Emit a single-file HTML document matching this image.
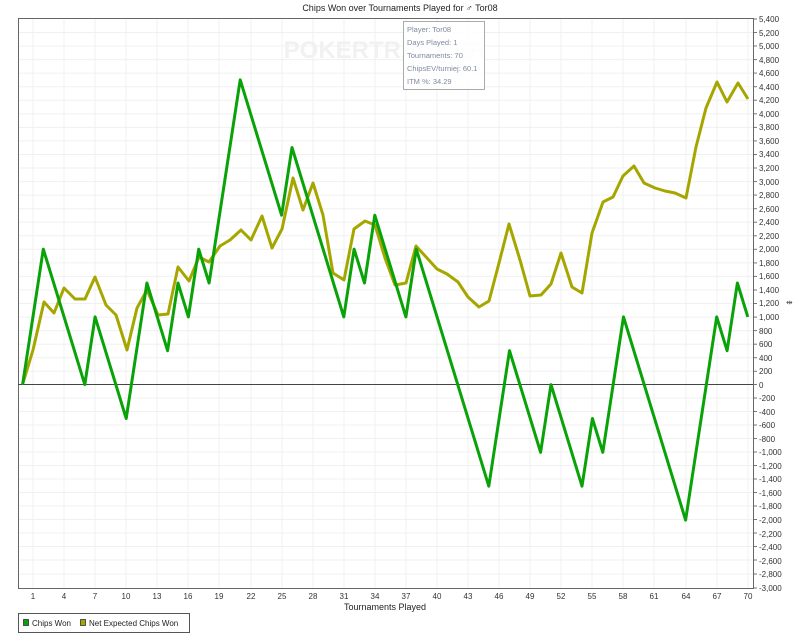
<!DOCTYPE html>
<html><head><meta charset="utf-8"><style>
html,body{margin:0;padding:0;background:#fff;}
svg{display:block;font-family:"Liberation Sans",sans-serif;}
</style></head><body>
<svg width="800" height="644" viewBox="0 0 800 644" xmlns="http://www.w3.org/2000/svg">
<rect width="800" height="644" fill="#fff"/>
<text x="400" y="11" font-size="9" text-anchor="middle" fill="#222">Chips Won over Tournaments Played for ♂ Tor08</text>
<!-- grid -->
<g stroke="#f0f0f0" stroke-width="1">
<line x1="18" x2="753" y1="32.5" y2="32.5"/><line x1="18" x2="753" y1="46" y2="46"/><line x1="18" x2="753" y1="59.6" y2="59.6"/><line x1="18" x2="753" y1="73.1" y2="73.1"/><line x1="18" x2="753" y1="86.7" y2="86.7"/><line x1="18" x2="753" y1="100.2" y2="100.2"/><line x1="18" x2="753" y1="113.8" y2="113.8"/><line x1="18" x2="753" y1="127.4" y2="127.4"/><line x1="18" x2="753" y1="140.9" y2="140.9"/><line x1="18" x2="753" y1="154.5" y2="154.5"/><line x1="18" x2="753" y1="168" y2="168"/><line x1="18" x2="753" y1="181.6" y2="181.6"/><line x1="18" x2="753" y1="195.1" y2="195.1"/><line x1="18" x2="753" y1="208.7" y2="208.7"/><line x1="18" x2="753" y1="222.2" y2="222.2"/><line x1="18" x2="753" y1="235.8" y2="235.8"/><line x1="18" x2="753" y1="249.3" y2="249.3"/><line x1="18" x2="753" y1="262.9" y2="262.9"/><line x1="18" x2="753" y1="276.4" y2="276.4"/><line x1="18" x2="753" y1="290" y2="290"/><line x1="18" x2="753" y1="303.5" y2="303.5"/><line x1="18" x2="753" y1="317.1" y2="317.1"/><line x1="18" x2="753" y1="330.6" y2="330.6"/><line x1="18" x2="753" y1="344.2" y2="344.2"/><line x1="18" x2="753" y1="357.7" y2="357.7"/><line x1="18" x2="753" y1="371.3" y2="371.3"/><line x1="18" x2="753" y1="398" y2="398"/><line x1="18" x2="753" y1="411.5" y2="411.5"/><line x1="18" x2="753" y1="425" y2="425"/><line x1="18" x2="753" y1="438.5" y2="438.5"/><line x1="18" x2="753" y1="452" y2="452"/><line x1="18" x2="753" y1="465.5" y2="465.5"/><line x1="18" x2="753" y1="479" y2="479"/><line x1="18" x2="753" y1="492.5" y2="492.5"/><line x1="18" x2="753" y1="506" y2="506"/><line x1="18" x2="753" y1="519.5" y2="519.5"/><line x1="18" x2="753" y1="533" y2="533"/><line x1="18" x2="753" y1="546.5" y2="546.5"/><line x1="18" x2="753" y1="560" y2="560"/><line x1="18" x2="753" y1="574" y2="574"/>
<line x1="33" x2="33" y1="19" y2="588"/><line x1="64" x2="64" y1="19" y2="588"/><line x1="95" x2="95" y1="19" y2="588"/><line x1="126" x2="126" y1="19" y2="588"/><line x1="157" x2="157" y1="19" y2="588"/><line x1="188" x2="188" y1="19" y2="588"/><line x1="219" x2="219" y1="19" y2="588"/><line x1="251" x2="251" y1="19" y2="588"/><line x1="282" x2="282" y1="19" y2="588"/><line x1="313" x2="313" y1="19" y2="588"/><line x1="344" x2="344" y1="19" y2="588"/><line x1="375" x2="375" y1="19" y2="588"/><line x1="406" x2="406" y1="19" y2="588"/><line x1="437" x2="437" y1="19" y2="588"/><line x1="468" x2="468" y1="19" y2="588"/><line x1="499" x2="499" y1="19" y2="588"/><line x1="530" x2="530" y1="19" y2="588"/><line x1="561" x2="561" y1="19" y2="588"/><line x1="592" x2="592" y1="19" y2="588"/><line x1="623" x2="623" y1="19" y2="588"/><line x1="654" x2="654" y1="19" y2="588"/><line x1="686" x2="686" y1="19" y2="588"/><line x1="717" x2="717" y1="19" y2="588"/><line x1="748" x2="748" y1="19" y2="588"/>
</g>
<text x="385" y="58" font-size="24" font-weight="bold" text-anchor="middle" fill="#f1f1f1">POKERTRACKER</text>
<!-- frame -->
<rect x="18.5" y="18.5" width="735" height="570" fill="none" stroke="#666" stroke-width="1"/>
<line x1="18" x2="753" y1="384.5" y2="384.5" stroke="#444" stroke-width="1"/>
<!-- series -->
<polyline fill="none" stroke="#a6a600" stroke-width="3" stroke-linejoin="round" points="23,383 33,350 44,302 54,313 64,288 75,299 85,299 95,277 106,305 116,315 127,350 137,308 147,290 158,315 168,314 178,267 189,281 199,257 209,262 220,246 230,240 241,230 251,240 262,216 272,248 282,229 293,178 303,210 313,183 323,215 333,273 344,280 354,229 365,221 375,225 385,258 395,285 406,283 416,246 427,258 437,269 447,274 458,282 468,297 479,307 489,301 499,263 509,224 520,260 530,296 541,295 551,284 561,253 572,287 582,293 592,233 603,202 613,197 623,176 634,166 644,183 655,188 665,191 675,193 686,198 696,147 706,108 717,82 727,102 738,83 748,99"/>
<polyline fill="none" stroke="#09a309" stroke-width="3" stroke-linejoin="round" points="22.6,384.6 43.3,249.1 84.8,384.6 95.1,316.9 126.2,418.5 146.9,283 167.6,350.7 178,283 188.4,316.9 198.7,249.1 209.1,283 240.2,79.8 281.6,215.2 292,147.5 343.8,316.9 354.1,249.1 364.5,283 374.8,215.2 405.9,316.9 416.3,249.1 488.8,486.2 509.5,350.7 540.6,452.3 551,384.6 582,486.2 592.4,418.5 602.8,452.3 623.5,316.9 685.6,520.1 716.7,316.9 727.1,350.7 737.4,283 747.8,316.9"/>
<!-- info box -->
<rect x="403.5" y="21.5" width="81" height="68" fill="#fff" fill-opacity="0.85" stroke="#aaa"/>
<g font-size="7.5" fill="#7f8aa0">
<text x="407" y="32">Player: Tor08</text>
<text x="407" y="45">Days Played: 1</text>
<text x="407" y="58">Tournaments: 70</text>
<text x="407" y="71">ChipsEV/turniej: 60.1</text>
<text x="407" y="84">ITM %: 34.29</text>
</g>
<!-- y ticks -->
<g stroke="#777" stroke-width="1">
<line x1="754" x2="757" y1="19" y2="19"/><line x1="754" x2="757" y1="32.5" y2="32.5"/><line x1="754" x2="757" y1="46" y2="46"/><line x1="754" x2="757" y1="59.6" y2="59.6"/><line x1="754" x2="757" y1="73.1" y2="73.1"/><line x1="754" x2="757" y1="86.7" y2="86.7"/><line x1="754" x2="757" y1="100.2" y2="100.2"/><line x1="754" x2="757" y1="113.8" y2="113.8"/><line x1="754" x2="757" y1="127.4" y2="127.4"/><line x1="754" x2="757" y1="140.9" y2="140.9"/><line x1="754" x2="757" y1="154.5" y2="154.5"/><line x1="754" x2="757" y1="168" y2="168"/><line x1="754" x2="757" y1="181.6" y2="181.6"/><line x1="754" x2="757" y1="195.1" y2="195.1"/><line x1="754" x2="757" y1="208.7" y2="208.7"/><line x1="754" x2="757" y1="222.2" y2="222.2"/><line x1="754" x2="757" y1="235.8" y2="235.8"/><line x1="754" x2="757" y1="249.3" y2="249.3"/><line x1="754" x2="757" y1="262.9" y2="262.9"/><line x1="754" x2="757" y1="276.4" y2="276.4"/><line x1="754" x2="757" y1="290" y2="290"/><line x1="754" x2="757" y1="303.5" y2="303.5"/><line x1="754" x2="757" y1="317.1" y2="317.1"/><line x1="754" x2="757" y1="330.6" y2="330.6"/><line x1="754" x2="757" y1="344.2" y2="344.2"/><line x1="754" x2="757" y1="357.7" y2="357.7"/><line x1="754" x2="757" y1="371.3" y2="371.3"/><line x1="754" x2="757" y1="384.5" y2="384.5"/><line x1="754" x2="757" y1="398" y2="398"/><line x1="754" x2="757" y1="411.5" y2="411.5"/><line x1="754" x2="757" y1="425" y2="425"/><line x1="754" x2="757" y1="438.5" y2="438.5"/><line x1="754" x2="757" y1="452" y2="452"/><line x1="754" x2="757" y1="465.5" y2="465.5"/><line x1="754" x2="757" y1="479" y2="479"/><line x1="754" x2="757" y1="492.5" y2="492.5"/><line x1="754" x2="757" y1="506" y2="506"/><line x1="754" x2="757" y1="519.5" y2="519.5"/><line x1="754" x2="757" y1="533" y2="533"/><line x1="754" x2="757" y1="546.5" y2="546.5"/><line x1="754" x2="757" y1="560" y2="560"/><line x1="754" x2="757" y1="574" y2="574"/><line x1="754" x2="757" y1="588" y2="588"/>
</g>
<g font-size="8" fill="#333">
<text x="759" y="22">5,400</text><text x="759" y="36">5,200</text><text x="759" y="49">5,000</text><text x="759" y="63">4,800</text><text x="759" y="76">4,600</text><text x="759" y="90">4,400</text><text x="759" y="103">4,200</text><text x="759" y="117">4,000</text><text x="759" y="130">3,800</text><text x="759" y="144">3,600</text><text x="759" y="157">3,400</text><text x="759" y="171">3,200</text><text x="759" y="185">3,000</text><text x="759" y="198">2,800</text><text x="759" y="212">2,600</text><text x="759" y="225">2,400</text><text x="759" y="239">2,200</text><text x="759" y="252">2,000</text><text x="759" y="266">1,800</text><text x="759" y="279">1,600</text><text x="759" y="293">1,400</text><text x="759" y="306">1,200</text><text x="759" y="320">1,000</text><text x="759" y="334">800</text><text x="759" y="347">600</text><text x="759" y="361">400</text><text x="759" y="374">200</text><text x="759" y="388">0</text><text x="759" y="401">-200</text><text x="759" y="415">-400</text><text x="759" y="428">-600</text><text x="759" y="442">-800</text><text x="759" y="455">-1,000</text><text x="759" y="469">-1,200</text><text x="759" y="482">-1,400</text><text x="759" y="496">-1,600</text><text x="759" y="509">-1,800</text><text x="759" y="523">-2,000</text><text x="759" y="537">-2,200</text><text x="759" y="550">-2,400</text><text x="759" y="564">-2,600</text><text x="759" y="577">-2,800</text><text x="759" y="591">-3,000</text>
</g>
<text x="786" y="305" font-size="8" fill="#555">⇹</text>
<!-- x labels -->
<g font-size="8" fill="#333" text-anchor="middle">
<text x="33" y="599">1</text><text x="64" y="599">4</text><text x="95" y="599">7</text><text x="126" y="599">10</text><text x="157" y="599">13</text><text x="188" y="599">16</text><text x="219" y="599">19</text><text x="251" y="599">22</text><text x="282" y="599">25</text><text x="313" y="599">28</text><text x="344" y="599">31</text><text x="375" y="599">34</text><text x="406" y="599">37</text><text x="437" y="599">40</text><text x="468" y="599">43</text><text x="499" y="599">46</text><text x="530" y="599">49</text><text x="561" y="599">52</text><text x="592" y="599">55</text><text x="623" y="599">58</text><text x="654" y="599">61</text><text x="686" y="599">64</text><text x="717" y="599">67</text><text x="748" y="599">70</text>
</g>
<text x="385" y="610" font-size="9" text-anchor="middle" fill="#222">Tournaments Played</text>
<!-- legend -->
<rect x="18.5" y="613.5" width="171" height="19" fill="#fff" stroke="#555"/>
<rect x="23.5" y="619.5" width="5" height="6" fill="#09a309" stroke="#333" stroke-width="0.8"/>
<text x="32" y="626" font-size="8" fill="#222">Chips Won</text>
<rect x="80.5" y="619.5" width="5" height="6" fill="#a6a600" stroke="#333" stroke-width="0.8"/>
<text x="89" y="626" font-size="8" fill="#222">Net Expected Chips Won</text>
</svg>
</body></html>
